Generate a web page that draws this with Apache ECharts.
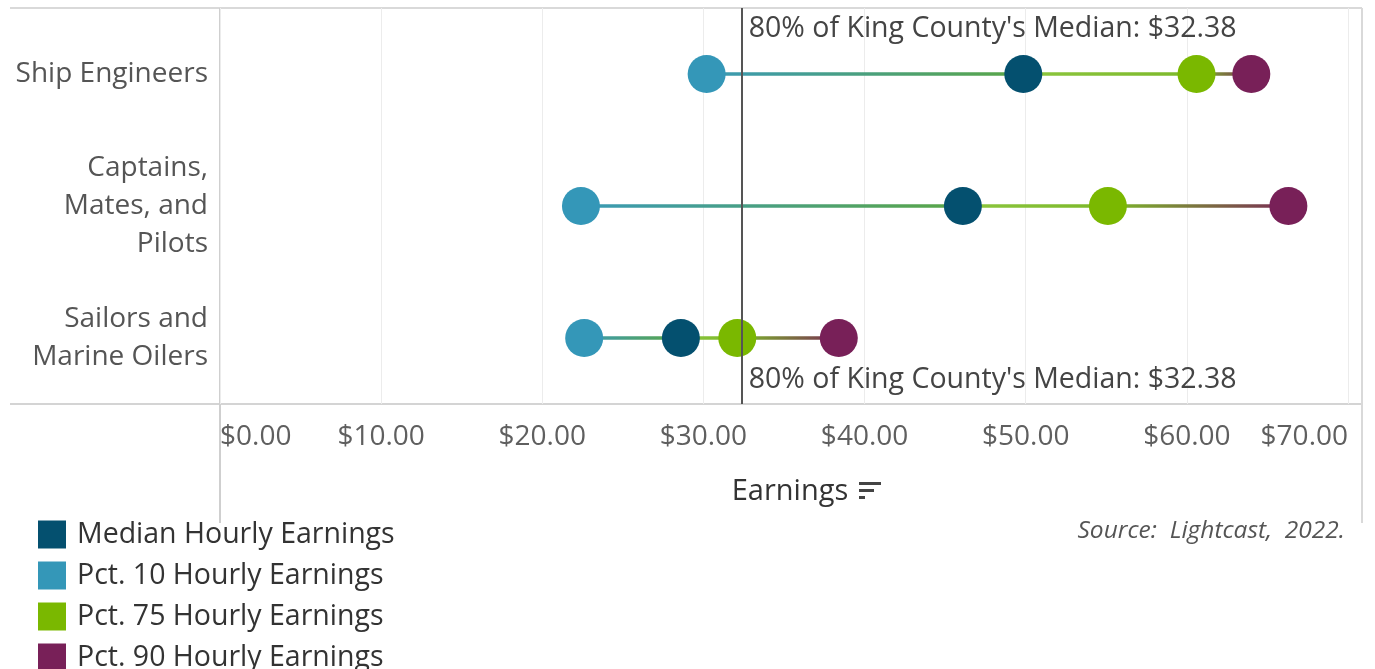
<!DOCTYPE html>
<html>
<head>
<meta charset="utf-8">
<script src="https://cdn.jsdelivr.net/npm/echarts@6/dist/echarts.min.js"></script>
<style>
  html, body { margin: 0; padding: 0; background: #fff; }
  #chart { width: 1375px; height: 669px; }
</style>
</head>
<body>
<div id="chart"></div>
<script>
// data
const occupations = ["Ship Engineers", "Captains,\nMates, and\nPilots", "Sailors and\nMarine Oilers"];
const medianHourly = [49.85, 46.1, 28.6];
const pct10Hourly = [30.2, 22.4, 22.6];
const pct75Hourly = [60.6, 55.1, 32.1];
const pct90Hourly = [64.0, 66.3, 38.4];
const tickLabels = ["$0.00", "$10.00", "$20.00", "$30.00", "$40.00", "$50.00", "$60.00", "$70.00"];
const refValue = 32.38;
const refLabel = "80% of King County's Median: $32.38";

const colors = {
  median: "#04506f",
  pct10: "#3497b8",
  pct75: "#7ab800",
  pct90: "#782058",
};

const FONT = "'Open Sans', 'Noto Sans', sans-serif";
const W = 1375;
const gridLeft = 220;
const gridRight = 27;
const gridTop = 8;
const gridBottom = 265;
const plotBottom = 669 - gridBottom;
const frameRight = 1362;
const frameLeft = 10;
const paneBottom = 523;

const chart = echarts.init(document.getElementById("chart"));

// one gradient line per occupation, colours switching at each point
const rangeLines = occupations.map((occ, i) => {
  const lo = pct10Hourly[i];
  const hi = pct90Hourly[i];
  const pos = (v) => (v - lo) / (hi - lo);
  return {
    type: "line",
    silent: true,
    symbol: "none",
    z: 1,
    data: [
      [pct10Hourly[i], occ],
      [medianHourly[i], occ],
      [pct75Hourly[i], occ],
      [pct90Hourly[i], occ],
    ],
    lineStyle: {
      width: 3.5,
      color: new echarts.graphic.LinearGradient(0, 0, 1, 0, [
        { offset: 0, color: "#3a9ab6" },
        { offset: pos(medianHourly[i]), color: "#5aa646" },
        { offset: Math.min(1, pos(medianHourly[i]) + 0.001), color: "#8cc63e" },
        { offset: pos(pct75Hourly[i]), color: "#7cb82a" },
        { offset: 1, color: "#7a2a55" },
      ]),
    },
  };
});

const dotSeries = (name, values, color) => ({
  name,
  type: "scatter",
  symbol: "circle",
  symbolSize: 38,
  z: 3,
  itemStyle: { color, opacity: 1 },
  data: values.map((v, i) => [v, occupations[i]]),
});

// label for the reference line, hung off the first and last rows
const refPointLabel = (offsetY) => ({
  show: true,
  formatter: refLabel,
  position: "right",
  distance: 6,
  offset: [0, offsetY],
  fontFamily: FONT,
  fontSize: 28.5,
  color: "#444",
});

const options = {
  animation: false,
  textStyle: { fontFamily: FONT },
  grid: { left: gridLeft, right: gridRight, top: gridTop, bottom: gridBottom },
  xAxis: {
    type: "value",
    min: 0,
    max: 70,
    interval: 10,
    name: "Earnings",
    nameLocation: "middle",
    nameGap: 73,
    nameTextStyle: { fontSize: 29, color: "#333", fontFamily: FONT, padding: [0, 0, 0, 12] },
    axisLine: { show: false },
    axisTick: { show: false },
    splitLine: { show: true, lineStyle: { color: "#ececec", width: 1 } },
    axisLabel: {
      fontSize: 28,
      color: "#5f5f5f",
      margin: 19,
      alignMinLabel: "left",
      alignMaxLabel: "right",
      formatter: (v) => tickLabels[Math.round(v / 10)],
    },
  },
  yAxis: {
    type: "category",
    inverse: true,
    data: occupations,
    axisLine: { show: false },
    axisTick: { show: false },
    splitLine: { show: false },
    axisLabel: {
      fontSize: 28,
      color: "#555",
      margin: 12,
      lineHeight: 38,
      align: "right",
    },
  },
  legend: {
    left: 38,
    top: 520,
    height: 200,
    padding: 0,
    orient: "vertical",
    icon: "rect",
    itemWidth: 28,
    itemHeight: 28,
    itemGap: 12,
    selectedMode: false,
    data: [
      "Median Hourly Earnings",
      "Pct. 10 Hourly Earnings",
      "Pct. 75 Hourly Earnings",
      "Pct. 90 Hourly Earnings",
    ],
    textStyle: { fontSize: 28.5, lineHeight: 28, color: "#333", fontFamily: FONT, padding: [0, 0, 0, 6] },
  },
  series: [
    ...rangeLines,
    dotSeries("Pct. 10 Hourly Earnings", pct10Hourly, colors.pct10),
    dotSeries("Median Hourly Earnings", medianHourly, colors.median),
    dotSeries("Pct. 75 Hourly Earnings", pct75Hourly, colors.pct75),
    {
      ...dotSeries("Pct. 90 Hourly Earnings", pct90Hourly, colors.pct90),
      markLine: {
        silent: true,
        symbol: ["none", "none"],
        z: 5,
        label: { show: false },
        lineStyle: { color: "#555", width: 2, type: "solid" },
        data: [{ xAxis: refValue }],
      },
      markPoint: {
        silent: true,
        symbol: "rect",
        symbolSize: 2,
        z: 6,
        itemStyle: { color: "rgba(0,0,0,0)" },
        data: [
          { coord: [refValue, occupations[0]], label: refPointLabel(-45) },
          { coord: [refValue, occupations[occupations.length - 1]], label: refPointLabel(42) },
        ],
      },
    },
  ],
  graphic: [
    // pane frame
    { type: "line", silent: true, shape: { x1: frameLeft, y1: gridTop, x2: frameRight, y2: gridTop }, style: { stroke: "#d9d9d9", lineWidth: 2 } },
    { type: "line", silent: true, shape: { x1: frameLeft, y1: plotBottom, x2: frameRight, y2: plotBottom }, style: { stroke: "#d4d4d4", lineWidth: 2 } },
    { type: "line", silent: true, shape: { x1: gridLeft, y1: gridTop, x2: gridLeft, y2: paneBottom }, style: { stroke: "#cfcfcf", lineWidth: 2 } },
    { type: "line", silent: true, shape: { x1: frameRight, y1: gridTop, x2: frameRight, y2: paneBottom }, style: { stroke: "#d9d9d9", lineWidth: 2 } },
    // sort icon next to the axis title
    { type: "rect", silent: true, shape: { x: 859, y: 482, width: 22, height: 3 }, style: { fill: "#444" } },
    { type: "rect", silent: true, shape: { x: 859, y: 489, width: 15, height: 3 }, style: { fill: "#444" } },
    { type: "rect", silent: true, shape: { x: 859, y: 496, width: 6, height: 3 }, style: { fill: "#444" } },
    {
      type: "text",
      silent: true,
      right: W - 1345,
      top: 519,
      style: {
        text: "Source:  Lightcast,  2022.",
        fontFamily: FONT,
        fontSize: 24.5,
        fontStyle: "italic",
        fill: "#555",
      },
    },
  ],
};

chart.setOption(options);
</script>
</body>
</html>
